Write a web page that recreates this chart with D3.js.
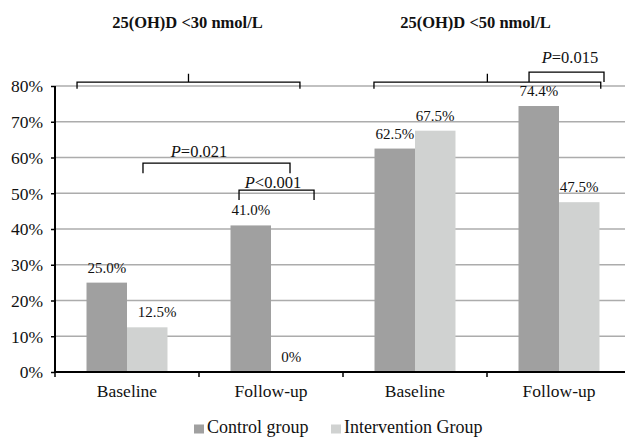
<!DOCTYPE html>
<html>
<head>
<meta charset="utf-8">
<script src="https://cdn.jsdelivr.net/npm/d3@7"></script>
<style>
  body { margin: 0; background: #fff; }
  svg text { font-family: "Times New Roman", "Liberation Serif", Times, serif !important; fill: #111; }
</style>
</head>
<body>
<div id="chart"></div>
<script>
// Chart data
const groupTitles = ["25(OH)D <30 nmol/L", "25(OH)D <50 nmol/L"];
const categories = ["Baseline", "Follow-up", "Baseline", "Follow-up"];
const seriesNames = ["Control group", "Intervention Group"];
const controlValues = [25.0, 41.0, 62.5, 74.4];
const interventionValues = [12.5, 0, 67.5, 47.5];
const valueLabels = [["25.0%", "41.0%", "62.5%", "74.4%"], ["12.5%", "0%", "67.5%", "47.5%"]];
const yTicks = [0, 10, 20, 30, 40, 50, 60, 70, 80];

// Significance brackets, in category units (x) and percent (y)
const groupBrackets = [[0.153, 1.701], [2.215, 3.79]];
const pBrackets = [
  {label: "=0.021", x0: 0.611, x1: 1.632, top: 58.4, foot: 55.6, tx: 1.0, ty: 60.1},
  {label: "<0.001", x0: 1.278, x1: 1.799, top: 50.9, foot: 48.1, tx: 1.514, ty: 51.4},
  {label: "=0.015", x0: 3.292, x1: 3.8125, top: 83.9, foot: 81.1, tx: 3.576, ty: 86.4}
];

const colors = ["#a0a0a0", "#d0d2d1"];

const W = 625, H = 438;
const margin = {top: 86, right: -6, bottom: 66, left: 55},
    width = W - margin.left - margin.right,
    height = H - margin.top - margin.bottom;

const svg = d3.select("#chart")
  .append("svg")
    .attr("width", W)
    .attr("height", H);

const g = svg.append("g")
    .attr("transform", `translate(${margin.left},${margin.top})`);

// Scales
const x = d3.scaleBand()
  .domain(d3.range(categories.length))
  .range([0, width])
  .padding(0);

const xs = d3.scaleBand()
  .domain(d3.range(seriesNames.length))
  .range([0, x.bandwidth()])
  .paddingInner(0)
  .paddingOuter(0.778);

const xu = d3.scaleLinear()
  .domain([0, categories.length])
  .range([0, width]);

const y = d3.scaleLinear()
  .domain([0, 80])
  .range([height, 0]);

// Gridlines
g.append("g")
  .selectAll("line")
  .data(yTicks.filter(d => d > 0))
  .join("line")
    .attr("x1", 0)
    .attr("x2", width)
    .attr("y1", d => y(d))
    .attr("y2", d => y(d))
    .attr("stroke", "#acacac")
    .attr("stroke-width", 1.6);

// Bars
const rows = categories.map((c, i) => ({i, values: [controlValues[i], interventionValues[i]]}));
const cat = g.selectAll(".cat")
  .data(rows)
  .join("g")
    .attr("class", "cat")
    .attr("transform", d => `translate(${x(d.i)},0)`);

cat.selectAll("rect")
  .data(d => d.values.map((v, s) => ({v, s})))
  .join("rect")
    .attr("x", d => xs(d.s))
    .attr("y", d => y(d.v))
    .attr("width", xs.bandwidth())
    .attr("height", d => height - y(d.v))
    .attr("fill", d => colors[d.s]);

// Value labels (the 12.5% label sits a little to the right in the original)
cat.selectAll(".val")
  .data(d => d.values.map((v, s) => ({v, s, i: d.i})))
  .join("text")
    .attr("class", "val")
    .attr("x", d => xs(d.s) + xs.bandwidth() / 2 + (d.i === 0 && d.s === 1 ? 10 : 0))
    .attr("y", d => y(d.v) - 10)
    .attr("text-anchor", "middle")
    .style("font-size", "15px")
    .text(d => valueLabels[d.s][d.i]);

// Y axis
const yAxis = g.append("g")
  .call(d3.axisLeft(y).tickValues(yTicks).tickFormat(d => d + "%").tickSize(4).tickPadding(8));
yAxis.attr("font-family", null);
yAxis.select(".domain").attr("stroke", "#000").attr("stroke-width", 2).attr("d", `M0,${height}V0`);
yAxis.selectAll(".tick line").attr("stroke", "#000").attr("stroke-width", 1.5);
yAxis.selectAll(".tick text").style("font-size", "17.5px").attr("dy", "0.34em").attr("fill", "#111");

// X axis
const xAxis = g.append("g")
  .attr("transform", `translate(0,${height})`);
xAxis.append("line")
  .attr("x1", 0).attr("x2", width)
  .attr("stroke", "#000").attr("stroke-width", 2);
xAxis.selectAll(".tk")
  .data(d3.range(categories.length))
  .join("line")
    .attr("x1", d => x(d)).attr("x2", d => x(d))
    .attr("y1", 0).attr("y2", 5)
    .attr("stroke", "#000").attr("stroke-width", 1.5);
xAxis.selectAll(".lbl")
  .data(categories)
  .join("text")
    .attr("x", (d, i) => x(i) + x.bandwidth() / 2)
    .attr("y", 25)
    .attr("text-anchor", "middle")
    .style("font-size", "17.5px")
    .text(d => d);

// Group titles
g.selectAll(".title")
  .data(groupTitles)
  .join("text")
    .attr("x", (d, i) => xu(i * 2 + 0.92))
    .attr("y", 27.7 - margin.top)
    .attr("text-anchor", "middle")
    .style("font-size", "16.5px")
    .style("font-weight", "bold")
    .text(d => d);

// Group brackets
const bracket = g.append("g")
  .attr("fill", "none")
  .attr("stroke", "#000")
  .attr("stroke-width", 1.3);

groupBrackets.forEach(([a, b]) => {
  const m = (a + b) / 2;
  bracket.append("path")
    .attr("d", `M${xu(a)},${y(79.2)}V${y(81.1)}H${xu(b)}V${y(79.2)}M${xu(m)},${y(81.1)}V${y(83.4)}`);
});

// P-value brackets
pBrackets.forEach(p => {
  bracket.append("path")
    .attr("d", `M${xu(p.x0)},${y(p.foot)}V${y(p.top)}H${xu(p.x1)}V${y(p.foot)}`);
  const t = g.append("text")
    .attr("x", xu(p.tx))
    .attr("y", y(p.ty))
    .attr("text-anchor", "middle")
    .style("font-size", "16.5px");
  t.append("tspan").style("font-style", "italic").text("P");
  t.append("tspan").text(p.label);
});

// Legend
const legend = svg.append("g")
  .attr("transform", "translate(194,433)");
const legX = [0, 137];
const item = legend.selectAll("g")
  .data(seriesNames)
  .join("g")
    .attr("transform", (d, i) => `translate(${legX[i]},0)`);
item.append("rect")
  .attr("y", -8.5)
  .attr("width", 10)
  .attr("height", 9)
  .attr("fill", (d, i) => colors[i]);
item.append("text")
  .attr("x", 13)
  .style("font-size", "18px")
  .text(d => d);
</script>
</body>
</html>
